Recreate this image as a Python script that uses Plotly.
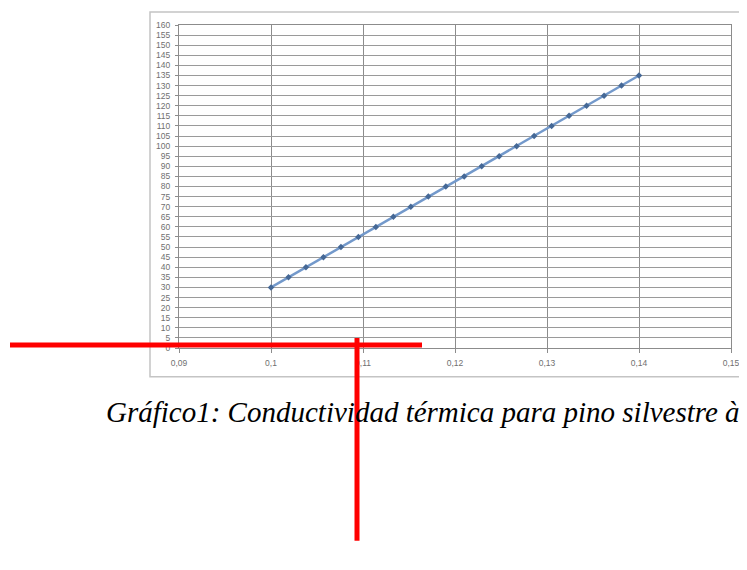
import plotly.graph_objects as go

# Data
conductividad = [0.1000, 0.1019, 0.1038, 0.1057, 0.1076, 0.1095, 0.1114, 0.1133,
                 0.1152, 0.1171, 0.1190, 0.1210, 0.1229, 0.1248, 0.1267, 0.1286,
                 0.1305, 0.1324, 0.1343, 0.1362, 0.1381, 0.1400]
valores = [30, 35, 40, 45, 50, 55, 60, 65, 70, 75, 80, 85, 90, 95, 100, 105,
           110, 115, 120, 125, 130, 135]
x_ticks = [0.09, 0.10, 0.11, 0.12, 0.13, 0.14, 0.15]
x_tick_labels = ["0,09", "0,1", "0,11", "0,12", "0,13", "0,14", "0,15"]
y_ticks = list(range(0, 165, 5))
caption = "Gráfico1: Conductividad térmica para pino silvestre à"

W, H = 747, 570
OFF = 8  # page body margin
# plot area in screen pixels
SL, SR, ST, SB = 179, 731, 23, 348
L, R, T, B = SL - OFF, SR - OFF, ST - OFF, SB - OFF

def px(x):
    return (x - OFF - L) / (R - L)

def py(y):
    return (B - (y - OFF)) / (B - T)

fig = go.Figure()
fig.add_trace(go.Scatter(
    x=conductividad, y=valores, mode="lines+markers",
    line=dict(color="#7399cb", width=2.5),
    marker=dict(symbol="diamond", size=5, color="#456896"),
    showlegend=False, hoverinfo="skip",
))

axis_font = dict(family="Liberation Sans, Arial", size=8.5, color="#707070")
fig.update_xaxes(
    range=[0.09, 0.15], tickvals=x_ticks, ticktext=x_tick_labels,
    showgrid=True, gridcolor="#8c8c8c", gridwidth=1,
    showline=True, linecolor="#8c8c8c", mirror=True,
    ticks="outside", ticklen=4, tickcolor="#8c8c8c",
    tickfont=axis_font, zeroline=False, ticklabelstandoff=3,
)
fig.update_yaxes(
    range=[0, 160], tickvals=y_ticks,
    showgrid=True, gridcolor="#9a9a9a", gridwidth=1,
    showline=True, linecolor="#8c8c8c", mirror=True,
    ticks="outside", ticklen=3, tickcolor="#8c8c8c",
    tickfont=axis_font, zeroline=False, ticklabelstandoff=3,
)

shapes = [
    # chart frame
    dict(type="rect", xref="paper", yref="paper",
         x0=px(150), x1=px(770), y0=py(377), y1=py(10),
         line=dict(color="#c4c4c4", width=1.5), layer="below"),
    # red marks
    dict(type="line", xref="paper", yref="paper",
         x0=px(10), x1=px(422), y0=py(345), y1=py(345),
         line=dict(color="#ff0000", width=5)),
    dict(type="line", xref="paper", yref="paper",
         x0=px(357), x1=px(357), y0=py(338), y1=py(542),
         line=dict(color="#ff0000", width=5)),
]

fig.update_layout(
    width=W, height=H,
    margin=dict(l=L, r=W - R, t=T, b=H - B),
    paper_bgcolor="white", plot_bgcolor="white",
    shapes=shapes,
    annotations=[dict(
        text="<i>" + caption + "</i>", xref="paper", yref="paper",
        x=px(104), y=py(412), xanchor="left", yanchor="middle",
        showarrow=False,
        font=dict(family="Liberation Serif, Times New Roman", size=29, color="#000000"),
    )],
)

fig.write_html("out.html")
